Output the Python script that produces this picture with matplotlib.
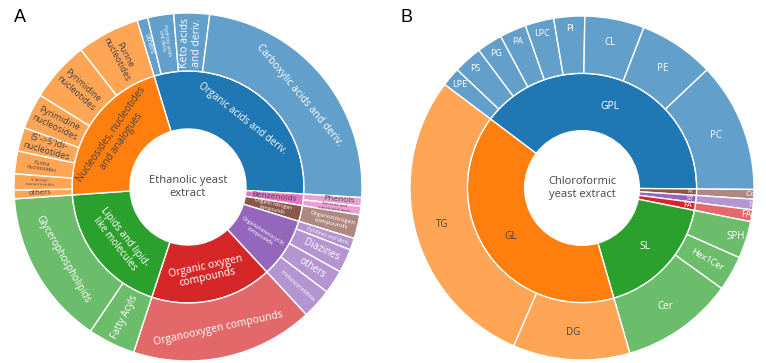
import numpy as np
import matplotlib.pyplot as plt
from matplotlib.colors import to_rgb

plt.rcParams['font.family'] = ['Open Sans', 'DejaVu Sans']

# ---- data: panel A (ethanolic extract), % of annotated features ----
a_groups = ["Organic acids and deriv.", "Benzenoids", "Organic nitrogen\ncompounds",
            "Organoheterocyclic\ncompounds", "Organic oxygen\ncompounds",
            "Lipids and lipid-\nlike molecules", "Nucleosides, nucleotides\nand analogues"]
a_leaves = [
    ["others", "Hydroxy acids\nand deriv.", "Keto acids\nand deriv.", "Carboxylic acids and deriv."],
    ["Phenols", "Benzene and\nsubstituted deriv."],
    ["Organonitrogen\ncompounds"],
    ["Pyridines and deriv.", "Diazines", "others", "Imidazopyrimidines"],
    ["Organooxygen compounds"],
    ["Fatty Acyls", "Glycerophospholipids"],
    ["others", "5'-deoxyr-\nibonucleosides", "Purine\nnucleosides", "(5'->5')di-\nnucleotides",
     "Pyrimidine\nnucleosides", "Pyrimidine\nnucleotides", "Purine\nnucleotides"],
]
a_values = [
    [1.0, 2.4, 3.3, 23.9],
    [0.8, 0.8],
    [2.2],
    [1.1, 2.2, 2.2, 2.8],
    [16.9],
    [4.4, 14.4],
    [0.8, 1.5, 2.1, 2.2, 3.3, 5.6, 5.8],
]

# ---- data: panel B (chloroformic extract) ----
b_groups = ["GPL", "PR", "ST", "FA", "SL", "GL"]
b_leaves = [
    ["LPE", "PS", "PG", "PA", "LPC", "PI", "CL", "PE", "PC"],
    ["CoQ"],
    ["SE"],
    ["FA"],
    ["SPH", "Hex1Cer", "Cer"],
    ["DG", "TG"],
]
b_values = [
    [1.8, 2.7, 2.4, 2.5, 2.7, 2.9, 5.6, 7.1, 12.2],
    [0.9],
    [1.0],
    [1.1],
    [3.5, 3.3, 10.6],
    [11.0, 28.8],
]

# ---- styles ----
BLUE, ORANGE, GREEN, RED = '#1f77b4', '#ff7f0e', '#2ca02c', '#d62728'
PURPLE, BROWN, PINK = '#9467bd', '#8c564b', '#e377c2'
DARK = '#444444'

a_colors = [BLUE, PINK, BROWN, PURPLE, RED, GREEN, ORANGE]
a_textcol = ['white', DARK, 'white', 'white', 'white', 'white', DARK]
# (orientation, fontsize, radius)
a_gstyle = [('t', 7, 0.5), ('r', 6, 0.5), ('r', 3.5, 0.5), ('r', 4, 0.5),
            ('t', 7.5, 0.5), ('t', 7, 0.5), ('t', 7, 0.5)]
a_lstyle = [
    [('r', 5, 0.85), ('r', 3.5, 0.85), ('r', 7.5, 0.83), ('t', 7.5, 0.83)],
    [('r', 6, 0.87), ('r', 3, 0.85)],
    [('r', 4.5, 0.85)],
    [('r', 3.5, 0.85), ('r', 7, 0.85), ('r', 7, 0.85), ('r', 3.5, 0.85)],
    [('t', 7.5, 0.83)],
    [('r', 7, 0.83), ('t', 7, 0.83)],
    [('r', 5.5, 0.85), ('r', 3, 0.85), ('r', 4, 0.85), ('r', 6.5, 0.84),
     ('r', 6.5, 0.84), ('r', 6.5, 0.84), ('r', 6.5, 0.84)],
]

b_colors = [BLUE, BROWN, PURPLE, RED, GREEN, ORANGE]
b_textcol = ['white', 'white', 'white', 'white', 'white', DARK]
b_gstyle = [('h', 7.5, 0.5), ('h', 3.5, 0.63), ('h', 4.5, 0.63), ('h', 5.5, 0.62),
            ('h', 7.5, 0.5), ('h', 7.5, 0.5)]
b_lstyle = [
    [('h', 6.5, 0.93)] * 6 + [('h', 7, 0.86), ('h', 7, 0.84), ('h', 7, 0.84)],
    [('h', 6, 1.0)],
    [('h', 6, 1.0)],
    [('h', 6.5, 0.97)],
    [('h', 7, 0.94), ('r', 6.5, 0.84), ('h', 7, 0.84)],
    [('h', 7, 0.84), ('h', 7, 0.84)],
]


def lighten(c, alpha=0.7):
    r = np.array(to_rgb(c))
    return tuple(alpha * r + (1 - alpha))


def put_text(ax, wedge, text, style, color):
    orient, size, rad = style
    mid = (wedge.theta1 + wedge.theta2) / 2
    x, y = rad * np.cos(np.radians(mid)), rad * np.sin(np.radians(mid))
    if orient == 'r':
        rot = ((mid + 90) % 180) - 90
    elif orient == 't':
        rot = (mid % 180) - 90
    else:
        rot = 0
    ax.text(x, y, text, rotation=rot, rotation_mode='anchor', ha='center', va='center',
            fontsize=size, color=color, linespacing=1.1)


def sunburst(ax, groups, leaves, values, colors, textcol, gstyle, lstyle, start, center):
    inner_vals = [sum(v) for v in values]
    outer_vals = [x for v in values for x in v]
    outer_cols = [lighten(c) for c, v in zip(colors, values) for _ in v]
    wp = dict(width=1 / 3, edgecolor='white', linewidth=1)
    w_in, _ = ax.pie(inner_vals, radius=2 / 3, colors=colors, startangle=start,
                     counterclock=False, wedgeprops=wp)
    w_out, _ = ax.pie(outer_vals, radius=1, colors=outer_cols, startangle=start,
                      counterclock=False, wedgeprops=wp)
    for w, g, st, tc in zip(w_in, groups, gstyle, textcol):
        put_text(ax, w, g, st, tc)
    k = 0
    for gi, names in enumerate(leaves):
        for j, name in enumerate(names):
            put_text(ax, w_out[k], name, lstyle[gi][j], textcol[gi])
            k += 1
    ax.text(0, 0, center, ha='center', va='center', fontsize=8, color=DARK, linespacing=1.2)
    ax.set_xlim(-1, 1)
    ax.set_ylim(-1, 1)
    ax.set_aspect('equal')
    ax.axis('off')


W, H = 766, 363
fig = plt.figure(figsize=(W / 100, H / 100), dpi=100)

ax_a = fig.add_axes([(188 - 174) / W, (H - 187 - 174) / H, 348 / W, 348 / H])
sunburst(ax_a, a_groups, a_leaves, a_values, a_colors, a_textcol, a_gstyle, a_lstyle,
         107, "Ethanolic yeast\nextract")

ax_b = fig.add_axes([(582 - 172) / W, (H - 188 - 172) / H, 344 / W, 344 / H])
sunburst(ax_b, b_groups, b_leaves, b_values, b_colors, b_textcol, b_gstyle, b_lstyle,
         143, "Chloroformic\nyeast extract")

fig.text(14 / W, 1 - 17 / H, "A", fontsize=13, family='Liberation Sans', va='center', ha='left')
fig.text(400 / W, 1 - 17 / H, "B", fontsize=13, family='Liberation Sans', va='center', ha='left')

fig.savefig('out.png', dpi=100)
